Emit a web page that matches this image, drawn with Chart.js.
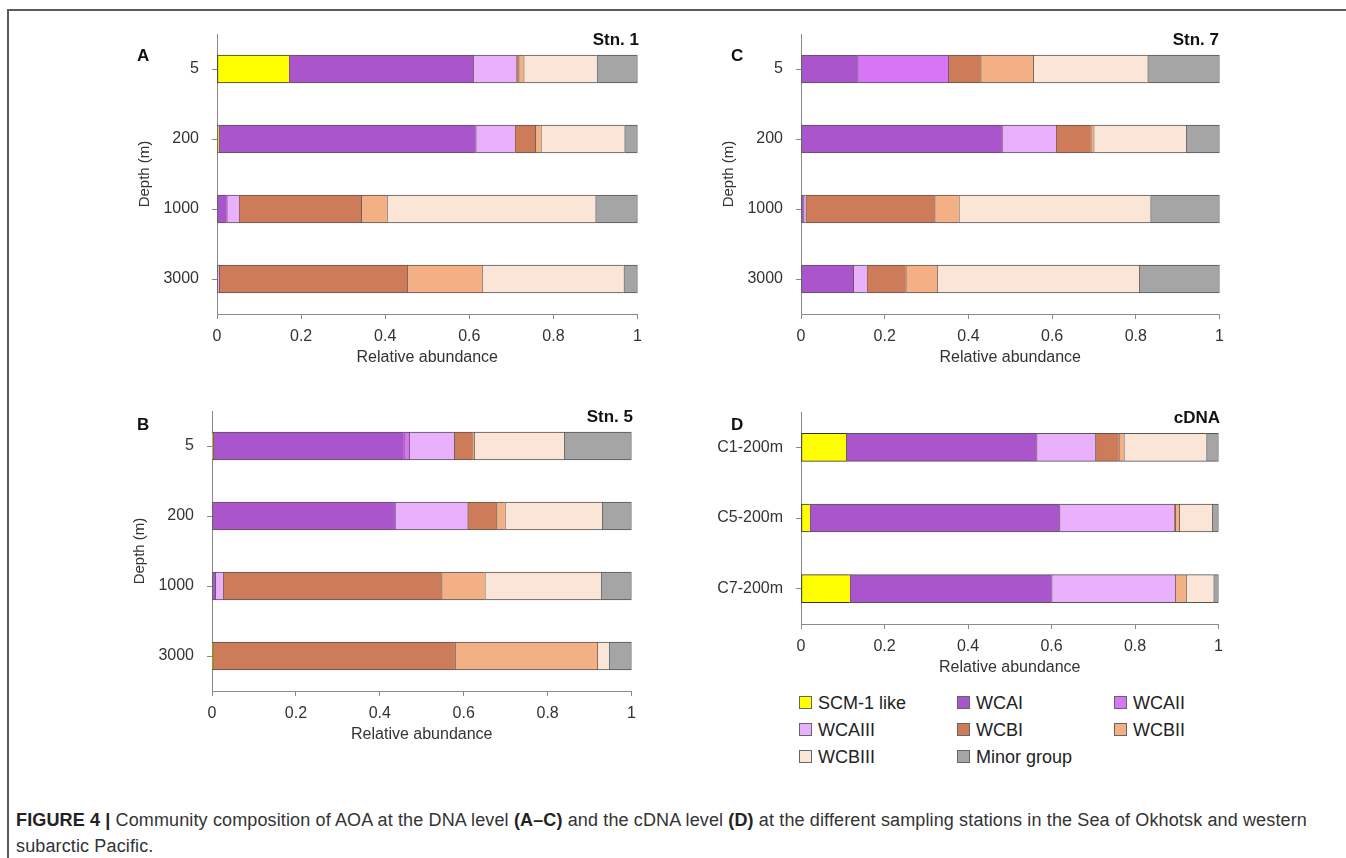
<!DOCTYPE html>
<html>
<head>
<meta charset="utf-8">
<title>Figure 4 - AOA community composition</title>
<script src="https://cdn.jsdelivr.net/npm/chart.js@4.4.1/dist/chart.umd.min.js"></script>
<style>
    html, body { margin: 0; padding: 0; background: #fff; }
    body { width: 1346px; height: 858px; position: relative; overflow: hidden;
           font-family: 'Liberation Sans', Arial, sans-serif; color: #333; }
    .frame { position: absolute; left: 7px; top: 9px; right: -5px; bottom: -5px;
             border-left: 2px solid #5a5a5a; border-top: 2px solid #5a5a5a; }
    canvas { position: absolute; }
    .tag { position: absolute; font-weight: bold; font-size: 17px; line-height: 20px; color: #111; }
    .tag.right { text-align: right; width: 200px; }
    .legend-item { position: absolute; font-size: 18px; line-height: 22px; color: #222; white-space: nowrap; }
    .legend-item i { display: inline-block; width: 11px; height: 11px; border: 1px solid #666;
                     margin-right: 6px; vertical-align: 0px; }
    .caption { position: absolute; left: 16px; top: 807px; font-size: 18px; line-height: 26px;
               color: #333; white-space: nowrap; }
    .caption b { color: #222; }
</style>
</head>
<body>
<div class="frame"></div>

<canvas id="chartA" width="530" height="357" style="left:120px;top:13px"></canvas>
<canvas id="chartC" width="528" height="357" style="left:704px;top:13px"></canvas>
<canvas id="chartB" width="529" height="357" style="left:115px;top:390px"></canvas>
<canvas id="chartD" width="527" height="289" style="left:704px;top:391px"></canvas>

<div class="tag" style="left:137px;top:46px">A</div>
<div class="tag right" style="left:439px;top:30px">Stn. 1</div>
<div class="tag" style="left:731px;top:46px">C</div>
<div class="tag right" style="left:1019px;top:30px">Stn. 7</div>
<div class="tag" style="left:137px;top:415px">B</div>
<div class="tag right" style="left:433px;top:407px">Stn. 5</div>
<div class="tag" style="left:731px;top:415px">D</div>
<div class="tag right" style="left:1020px;top:408px">cDNA</div>

<div id="legend"></div>

<div class="caption">
    <span id="capLine1"><b>FIGURE 4 |</b> Community composition of AOA at the DNA level <b>(A–C)</b> and the cDNA level <b>(D)</b> at the different sampling stations in the Sea of Okhotsk and western</span><br>
    <span id="capLine2">subarctic Pacific.</span>
</div>

<script>
// =====================================================
//  DATA — relative abundance per group
// =====================================================
const groups = ['SCM-1 like', 'WCAI', 'WCAII', 'WCAIII', 'WCBI', 'WCBII', 'WCBIII', 'Minor group'];
const groupColors = ['#ffff00', '#aa55cc', '#d874f6', '#e9b0fb', '#cd7b59', '#f3b084', '#fbe5d6', '#a5a5a5'];

const depthLabels = ['5', '200', '1000', '3000'];
const cdnaLabels = ['C1-200m', 'C5-200m', 'C7-200m'];
const xTickLabels = ['0', '0.2', '0.4', '0.6', '0.8', '1'];

// rows follow the y categories, columns follow `groups`
const stn1 = [
    [0.171, 0.438, 0,     0.103, 0.005, 0.012, 0.174, 0.097],
    [0.004, 0.611, 0,     0.093, 0.049, 0.013, 0.199, 0.031],
    [0,     0.023, 0,     0.029, 0.291, 0.061, 0.496, 0.100],
    [0,     0,     0,     0.005, 0.447, 0.178, 0.337, 0.033]
];
const stn7 = [
    [0,     0.135, 0.217, 0,     0.077, 0.126, 0.273, 0.172],
    [0,     0.480, 0,     0.129, 0.083, 0.007, 0.221, 0.080],
    [0,     0.006, 0,     0.005, 0.308, 0.058, 0.458, 0.165],
    [0,     0.125, 0,     0.032, 0.093, 0.075, 0.483, 0.192]
];
const stn5 = [
    [0.002, 0.455, 0.013, 0.107, 0.044, 0.004, 0.214, 0.161],
    [0,     0.436, 0,     0.173, 0.069, 0.020, 0.232, 0.070],
    [0,     0.008, 0,     0.018, 0.521, 0.103, 0.277, 0.073],
    [0.003, 0,     0,     0,     0.576, 0.339, 0.028, 0.054]
];
const cdna = [
    [0.108, 0.456, 0,     0.141, 0.056, 0.012, 0.198, 0.029],
    [0.021, 0.598, 0,     0.275, 0.002, 0.010, 0.079, 0.015],
    [0.117, 0.483, 0,     0.296, 0,     0.026, 0.066, 0.012]
];

// Shared Chart.js defaults
Chart.defaults.font.family = "'Liberation Sans', Arial, sans-serif";
Chart.defaults.color = '#333';
Chart.defaults.animation = false;

const AXIS_GREY = '#8a8a8a';

// Helper: one stacked horizontal bar panel
function buildPanel(canvasId, labels, rows, yTitle) {
    const ctx = document.getElementById(canvasId);
    if (!ctx) return;
    const datasets = groups.map((name, g) => ({
        label: name,
        data: rows.map(r => r[g]),
        backgroundColor: groupColors[g],
        borderColor: g === 0 ? '#333' : '#555',
        borderWidth: { top: 1, bottom: 1, left: 1, right: g === groups.length - 1 ? 1 : 0 },
        borderSkipped: false,
        barThickness: 28
    }));
    return new Chart(ctx, {
        type: 'bar',
        data: { labels, datasets },
        options: {
            indexAxis: 'y',
            responsive: false,
            layout: { padding: { top: 0, right: 9, left: 0, bottom: 0 } },
            plugins: { legend: { display: false }, tooltip: { enabled: false } },
            scales: {
                x: {
                    stacked: true, min: 0, max: 1,
                    afterFit: s => { s.height = 56; },
                    afterBuildTicks: s => { s.ticks = xTickLabels.map(t => ({ value: parseFloat(t) })); },
                    grid: { drawOnChartArea: false, tickLength: 5, color: AXIS_GREY },
                    border: { color: AXIS_GREY },
                    ticks: { padding: 8, font: { size: 16 }, color: '#333',
                             callback: (v, i) => xTickLabels[i] },
                    title: { display: true, text: 'Relative abundance', font: { size: 16 },
                             color: '#333', padding: { top: 0, bottom: 3 } }
                },
                y: {
                    stacked: true,
                    afterFit: s => { s.width = 97; },
                    grid: { drawOnChartArea: false, tickLength: 5, offset: false, color: AXIS_GREY },
                    border: { color: AXIS_GREY },
                    // lineHeight 1 keeps the scale's top padding at 8 + 13 = 21px
                    ticks: { padding: 13, font: { size: 16, lineHeight: 1 }, color: '#333' },
                    title: { display: !!yTitle, text: yTitle || '', font: { size: 15 },
                             color: '#333', padding: { top: 16, bottom: 0 } }
                }
            }
        }
    });
}

// Legend (HTML, three columns)
function buildLegend() {
    const box = document.getElementById('legend');
    const cols = [799, 957, 1114];
    const rowsY = [692, 719, 746];
    groups.forEach((name, i) => {
        const el = document.createElement('div');
        el.className = 'legend-item';
        el.style.left = cols[i % 3] + 'px';
        el.style.top = rowsY[Math.floor(i / 3)] + 'px';
        el.innerHTML = '<i style="background:' + groupColors[i] + '"></i>' + name;
        box.appendChild(el);
    });
}

// Caption: stretch first line to the width it has in the figure
function fitCaption() {
    const line = document.getElementById('capLine1');
    const target = 1291;
    const w = line.getBoundingClientRect().width;
    const n = line.textContent.length;
    const ls = (target - w) / n;
    document.querySelector('.caption').style.letterSpacing = ls.toFixed(3) + 'px';
}

buildPanel('chartA', depthLabels, stn1, 'Depth (m)');
buildPanel('chartC', depthLabels, stn7, 'Depth (m)');
buildPanel('chartB', depthLabels, stn5, 'Depth (m)');
buildPanel('chartD', cdnaLabels, cdna, null);
buildLegend();
fitCaption();
</script>
</body>
</html>
